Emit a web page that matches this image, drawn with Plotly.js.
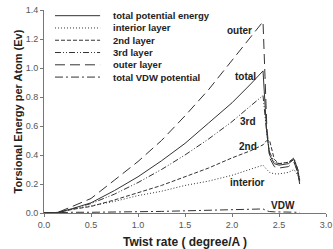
<!DOCTYPE html>
<html><head><meta charset="utf-8">
<script src="https://cdn.plot.ly/plotly-3.0.1.min.js"></script>
<style>html,body{margin:0;padding:0;background:#fff}#c{width:333px;height:249px}</style>
</head><body><div id="c"></div>
<script>
const xs = [0, 0.15, 0.3, 0.5, 0.75, 1.0, 1.25, 1.5, 1.75, 2.0, 2.2, 2.33, 2.37, 2.40, 2.45, 2.5, 2.6, 2.66, 2.7, 2.72];
const totalPE  = [0, 0.004, 0.03, 0.07, 0.155, 0.25, 0.36, 0.48, 0.62, 0.76, 0.89, 0.98, 0.55, 0.40, 0.34, 0.33, 0.34, 0.37, 0.30, 0.22];
const interior = [0, 0.004, 0.025, 0.05, 0.08, 0.12, 0.15, 0.19, 0.22, 0.26, 0.30, 0.33, 0.30, 0.28, 0.27, 0.27, 0.28, 0.30, 0.26, 0.22];
const layer2   = [0, 0.004, 0.025, 0.045, 0.09, 0.14, 0.19, 0.25, 0.31, 0.38, 0.43, 0.47, 0.50, 0.50, 0.37, 0.34, 0.35, 0.37, 0.28, 0.22];
const layer3   = [0, 0.004, 0.028, 0.065, 0.13, 0.21, 0.30, 0.40, 0.51, 0.63, 0.74, 0.81, 0.55, 0.42, 0.35, 0.34, 0.35, 0.38, 0.30, 0.23];
const outer    = [0, 0.005, 0.045, 0.10, 0.227, 0.355, 0.50, 0.67, 0.85, 1.05, 1.21, 1.32, 0.60, 0.38, 0.32, 0.31, 0.32, 0.35, 0.28, 0.20];
const vdw      = [0, 0.004, 0.005, 0.005, 0.006, 0.008, 0.011, 0.015, 0.019, 0.022, 0.026, 0.028, 0.015, 0.010, 0.008, 0.008, 0.007, 0.006, 0.005, 0.005];
const names = ["total potential energy", "interior layer", "2nd layer", "3rd layer", "outer layer", "total VDW potential"];
const series = [totalPE, interior, layer2, layer3, outer, vdw];
const dashes = ["solid", "1px,2px", "4px,2px", "6px,2px,1px,2px,1px,2px", "10px,5px", "8px,3px,2px,3px"];
const xTicks = [0, 0.5, 1.0, 1.5, 2.0, 2.5, 3.0];
const yTicks = [0, 0.2, 0.4, 0.6, 0.8, 1.0, 1.2, 1.4];
const labels = [
  {t: "outer", x: 2.085, y: 1.26},
  {t: "total", x: 2.14, y: 0.94},
  {t: "3rd", x: 2.17, y: 0.63},
  {t: "2nd", x: 2.17, y: 0.46},
  {t: "interior", x: 2.16, y: 0.21},
  {t: "VDW", x: 2.54, y: 0.055}
];

const traces = series.map((s, i) => ({
  x: xs, y: s, name: names[i], type: "scatter", mode: "lines", showlegend: false,
  line: {color: "#333", width: 1, dash: dashes[i]}
}));

const fam = "Liberation Sans, Arial, sans-serif";
// compact legend (paper coordinates)
const legTop = 0.972, legStep = 0.0605, legX0 = 0.039, legX1 = 0.199, legTx = 0.238;
const shapes = [], anns = [];
names.forEach((n, i) => {
  const yy = legTop - i * legStep;
  shapes.push({type: "line", xref: "paper", yref: "paper", x0: legX0, x1: legX1, y0: yy, y1: yy,
    line: {color: "#333", width: 1, dash: dashes[i]}});
  anns.push({xref: "paper", yref: "paper", x: legTx, y: yy, xanchor: "left", yanchor: "middle",
    text: n, showarrow: false, font: {family: fam, size: 9.5, color: "#222", weight: "bold"}});
});
labels.forEach(a => anns.push({x: a.x, y: a.y, xref: "x", yref: "y", text: a.t, showarrow: false,
  font: {family: fam, size: 10, color: "#222", weight: "bold"}}));

const layout = {
  width: 333, height: 249,
  margin: {l: 44, r: 7, t: 10, b: 36},
  paper_bgcolor: "#fff", plot_bgcolor: "#fff",
  showlegend: false,
  xaxis: {range: [0, 3], tickvals: xTicks, ticktext: xTicks.map(v => v.toFixed(1)),
    showgrid: false, zeroline: false, showline: true, linecolor: "#777", linewidth: 1,
    ticks: "outside", ticklen: 3, tickcolor: "#777",
    tickfont: {family: fam, size: 9, color: "#555"},
    title: {text: "Twist rate ( degree/A )", font: {family: fam, size: 12, color: "#222", weight: "bold"}, standoff: 12}},
  yaxis: {range: [0, 1.4], tickvals: yTicks, ticktext: yTicks.map(v => v.toFixed(1)),
    showgrid: false, zeroline: false, showline: true, linecolor: "#777", linewidth: 1,
    ticks: "outside", ticklen: 3, tickcolor: "#777",
    tickfont: {family: fam, size: 9, color: "#555"},
    title: {text: "Torsional Energy per Atom (Ev)", font: {family: fam, size: 11, color: "#222", weight: "bold"}, standoff: 0}},
  shapes: shapes,
  annotations: anns
};
Plotly.newPlot("c", traces, layout, {displayModeBar: false, staticPlot: true});
</script></body></html>
